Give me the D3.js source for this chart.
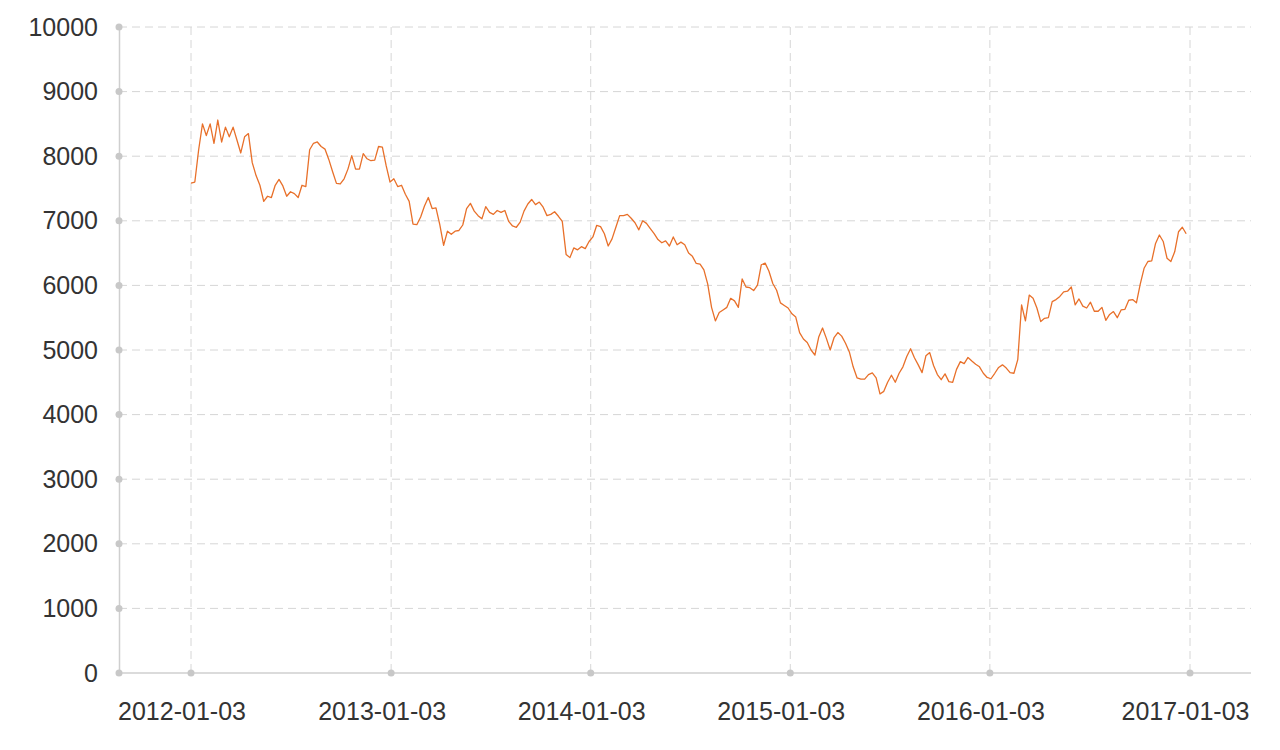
<!DOCTYPE html>
<html>
<head>
<meta charset="utf-8">
<script src="https://cdn.jsdelivr.net/npm/d3@7"></script>
<style>
  body { margin: 0; background: #fff; }
</style>
</head>
<body>
<div id="chart"></div>
<script>
// Chart data (weekly readings from 2012-01-03)
const startDate = "2012-01-03";
const stepDays = 7;
const values = [
  7585, 7600, 8100, 8500, 8320, 8500, 8200, 8560, 8220, 8450,
  8300, 8450, 8250, 8050, 8300, 8350, 7900, 7700, 7550, 7300,
  7380, 7360, 7550, 7640, 7540, 7380, 7450, 7420, 7360, 7550,
  7530, 8100, 8200, 8220, 8150, 8110, 7950, 7760, 7580, 7570,
  7650, 7800, 8010, 7800, 7800, 8040, 7960, 7930, 7940, 8150,
  8140, 7850, 7600, 7650, 7530, 7550, 7410, 7300, 6950, 6940,
  7060, 7230, 7360, 7190, 7200, 6940, 6620, 6840, 6790, 6840,
  6850, 6935, 7190, 7270, 7150, 7080, 7030, 7220, 7130, 7100,
  7160, 7130, 7160, 6990, 6920, 6900, 6980, 7150, 7260, 7330,
  7250, 7290, 7210, 7080, 7100, 7140, 7070, 6990, 6480, 6430,
  6580, 6550, 6600, 6570, 6680, 6750, 6930, 6910, 6800, 6610,
  6720, 6900, 7080, 7080, 7100, 7040, 6970, 6860, 7000, 6960,
  6880, 6800, 6710, 6660, 6690, 6610, 6750, 6630, 6670, 6630,
  6500, 6450, 6340, 6330, 6240, 6020, 5660, 5450, 5580, 5620,
  5660, 5800, 5760, 5660, 6100, 5975, 5965, 5920, 6005, 6320,
  6345, 6220, 6030, 5925, 5730, 5690, 5650, 5560, 5510, 5270,
  5170, 5115, 5000, 4920, 5200, 5340, 5180, 5000, 5190, 5270,
  5215, 5105, 4970, 4740, 4570, 4550, 4550, 4620, 4645, 4570,
  4320, 4360, 4500, 4610, 4500, 4640, 4740, 4900, 5020, 4880,
  4770, 4650, 4910, 4960, 4760, 4620, 4540, 4630, 4510, 4500,
  4700, 4820, 4790, 4885, 4830, 4780, 4740, 4640, 4575, 4555,
  4640, 4730, 4770, 4720, 4650, 4640, 4850, 5700, 5450, 5850,
  5800, 5650, 5440, 5490, 5500, 5750, 5780, 5830, 5900, 5910,
  5975, 5700, 5790, 5680, 5650, 5740, 5600, 5600, 5660, 5460,
  5550, 5595, 5500, 5620, 5630, 5770, 5780, 5730, 6020, 6265,
  6370, 6380, 6650, 6780, 6680, 6420, 6370, 6520, 6830, 6900,
  6800
];

// Axis ticks
const xTickLabels = ["2012-01-03", "2013-01-03", "2014-01-03", "2015-01-03", "2016-01-03", "2017-01-03"];
const yTickValues = [0, 1000, 2000, 3000, 4000, 5000, 6000, 7000, 8000, 9000, 10000];

// Dimensions
const width = 1280;
const height = 750;
const plotLeft = 119;
const plotRight = 1251;
const plotTop = 27;
const plotBottom = 673;

const parseDate = d3.timeParse("%Y-%m-%d");
const fmt = d3.timeFormat("%Y-%m-%d");
const start = parseDate(startDate);
const data = values.map((v, i) => ({ date: d3.timeDay.offset(start, i * stepDays), value: v }));
const xTicks = xTickLabels.map(parseDate);

const svg = d3.select("#chart")
  .append("svg")
  .attr("width", width)
  .attr("height", height)
  .style("font-family", "Lato, 'Open Sans', sans-serif");

// Scales
const x = d3.scaleTime()
  .domain([xTicks[0], xTicks[xTicks.length - 1]])
  .range([191, 1190]);

const y = d3.scaleLinear()
  .domain([0, 10000])
  .range([plotBottom, plotTop]);

const gridColor = "#d6d6d6";
const axisColor = "#cfcfcf";
const textColor = "#333";

// Horizontal grid lines
svg.append("g")
  .selectAll("line")
  .data(yTickValues.filter(d => d > 0))
  .join("line")
  .attr("x1", plotLeft)
  .attr("x2", plotRight)
  .attr("y1", d => y(d))
  .attr("y2", d => y(d))
  .attr("stroke", gridColor)
  .attr("stroke-width", 1)
  .attr("stroke-dasharray", "8,5");

// Vertical grid lines
svg.append("g")
  .selectAll("line")
  .data(xTicks)
  .join("line")
  .attr("x1", d => x(d))
  .attr("x2", d => x(d))
  .attr("y1", plotTop)
  .attr("y2", plotBottom)
  .attr("stroke", gridColor)
  .attr("stroke-width", 1)
  .attr("stroke-dasharray", "8,5");

// Y axis
const yAxis = svg.append("g")
  .attr("transform", `translate(${plotLeft},0)`)
  .call(d3.axisLeft(y).tickValues(yTickValues).tickFormat(d3.format("d")).tickSize(0).tickPadding(21));
yAxis.select(".domain").attr("stroke", axisColor).attr("stroke-width", 1.5);
yAxis.selectAll("text")
  .style("font-size", "25px")
  .style("font-weight", 300)
  .attr("fill", textColor);

// X axis line (spans the full plot width)
svg.append("line")
  .attr("x1", plotLeft)
  .attr("x2", plotRight)
  .attr("y1", plotBottom)
  .attr("y2", plotBottom)
  .attr("stroke", axisColor)
  .attr("stroke-width", 1.5);

const xAxis = svg.append("g")
  .attr("transform", `translate(0,${plotBottom})`)
  .call(d3.axisBottom(x).tickValues(xTicks).tickFormat(fmt).tickSize(0).tickPadding(29));
xAxis.select(".domain").remove();
xAxis.selectAll("text")
  .style("font-size", "25px")
  .style("font-weight", 300)
  .attr("fill", textColor)
  .attr("dx", (d, i) => i === xTicks.length - 1 ? "-5" : "-9.5");

// Tick dots
svg.append("g")
  .selectAll("circle")
  .data(yTickValues)
  .join("circle")
  .attr("cx", plotLeft)
  .attr("cy", d => y(d))
  .attr("r", 3.5)
  .attr("fill", "#c8c8c8");

svg.append("g")
  .selectAll("circle")
  .data(xTicks)
  .join("circle")
  .attr("cx", d => x(d))
  .attr("cy", plotBottom)
  .attr("r", 3.5)
  .attr("fill", "#c8c8c8");

// Data line
const line = d3.line()
  .x(d => x(d.date))
  .y(d => y(d.value));

svg.append("path")
  .datum(data)
  .attr("fill", "none")
  .attr("stroke", "#e8702a")
  .attr("stroke-width", 1.3)
  .attr("stroke-linejoin", "round")
  .attr("d", line);
</script>
</body>
</html>
